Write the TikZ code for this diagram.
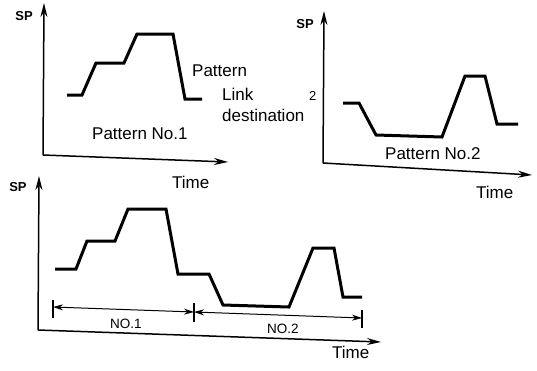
\documentclass[tikz,border=0pt]{standalone}
\usepackage{fontspec}
\setmainfont{Liberation Sans}
\usetikzlibrary{arrows.meta}
\begin{document}
\begin{tikzpicture}[x=1pt,y=-1pt,
  axis/.style={line width=1.5pt,-{Stealth[length=14pt,width=7pt]}},
  curve/.style={line width=3pt,line join=miter,line cap=butt},
  dim/.style={line width=1pt,{Stealth[length=10pt,width=6pt]}-{Stealth[length=10pt,width=6pt]}},
  tick/.style={line width=1.2pt},
  lbl/.style={inner sep=0pt,anchor=base west,font=\fontsize{17}{19}\selectfont},
  sp/.style={inner sep=0pt,font=\fontsize{13}{15}\selectfont\bfseries},
  no/.style={inner sep=0pt,anchor=base west,font=\fontsize{13.5}{15}\selectfont}]
\useasboundingbox (0,0) rectangle (537,370);
% ---------- graph 1 ----------
\coordinate (o1) at (43,155);
\coordinate (y1) at (44,3);
\coordinate (x1) at (228,162);
\draw[axis] (o1) -- (y1);
\draw[axis] (o1) -- (x1);
\node[sp] (sp1) at (24,16) {SP};
\node[lbl] (t1) at (172,188) {Time};
\draw[curve] (67,95) -- (82,95) -- (96,63) -- (124,63) -- (137,34) -- (173,34) -- (185,99) -- (202,99);
\node[lbl] (pat) at (192,76) {Pattern};
\node[lbl] (lnk) at (222,100) {Link};
\node[lbl] (dst) at (222,121) {destination};
\node[inner sep=0pt,anchor=base west,font=\fontsize{13}{15}\selectfont] (two) at (309,100) {2};
\node[lbl] (pn1) at (92,139) {Pattern No.1};
% ---------- graph 2 ----------
\coordinate (o2) at (323,163);
\coordinate (y2) at (324,11);
\coordinate (x2) at (532,175);
\draw[axis] (o2) -- (y2);
\draw[axis] (o2) -- (x2);
\node[sp] (sp2) at (305,24) {SP};
\node[lbl] (t2) at (476,198) {Time};
\draw[curve] (343,103) -- (359,103) -- (376,135) -- (442,137) -- (465,76) -- (485,76) -- (497,124) -- (518,124);
\node[lbl] (pn2) at (385,159) {Pattern No.2};
% ---------- graph 3 ----------
\coordinate (o3) at (38,330);
\coordinate (y3) at (39,176);
\coordinate (x3) at (381,342);
\draw[axis] (o3) -- (y3);
\draw[axis] (o3) -- (x3);
\node[sp] (sp3) at (18,187) {SP};
\node[lbl] (t3) at (332,358) {Time};
\draw[curve] (55,269) -- (76,269) -- (87,241) -- (115,241) -- (128,209) -- (166,209) -- (178,274) -- (209,274) -- (223,305) -- (289,307) -- (313,248) -- (334,248) -- (343,297) -- (362,297);
% dimension ticks
\coordinate (a1) at (53,300); \coordinate (a2) at (53,318);
\coordinate (b1) at (194,303); \coordinate (b2) at (194,322);
\coordinate (c1) at (362,310); \coordinate (c2) at (362,328);
\draw[tick] (a1) -- (a2);
\draw[tick] (b1) -- (b2);
\draw[tick] (c1) -- (c2);
\coordinate (d1) at (53,307); \coordinate (d2) at (194,312); \coordinate (d3) at (362,318);
\draw[dim] (d1) -- (d2);
\draw[dim] (d2) -- (d3);
\node[no] (n1) at (110,328) {NO.1};
\node[no] (n2) at (267,333) {NO.2};
\end{tikzpicture}
\end{document}
